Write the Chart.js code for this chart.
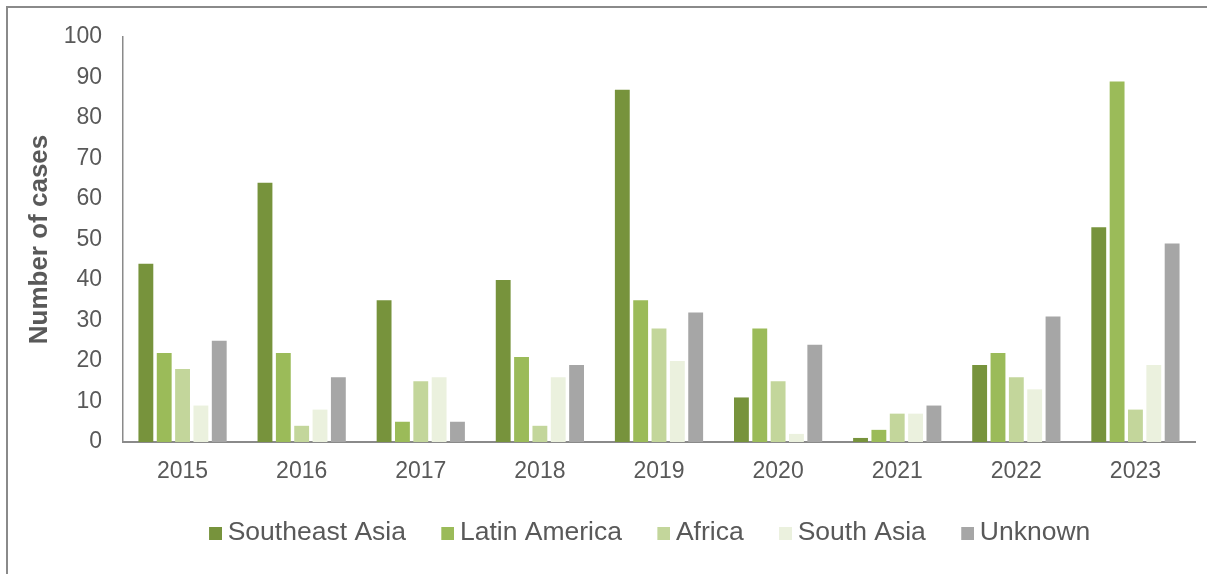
<!DOCTYPE html>
<html>
<head>
<meta charset="utf-8">
<script src="https://cdn.jsdelivr.net/npm/chart.js@4/dist/chart.umd.min.js"></script>
<style>
  html, body { margin: 0; padding: 0; background: #ffffff; }
  #wrap { position: relative; width: 1207px; height: 574px; overflow: hidden; }
  #frame { position: absolute; left: 6px; top: 6px; width: 1201px; height: 568px;
           border-top: 2px solid #8a8a8a; border-left: 2px solid #8a8a8a; box-sizing: border-box; }
  canvas { position: absolute; left: 0; top: 0; }
</style>
</head>
<body>
<div id="wrap">
  <div id="frame"></div>
  <canvas id="chart" width="1207" height="574"></canvas>
</div>
<script>
// ---- data ----
const years = ['2015', '2016', '2017', '2018', '2019', '2020', '2021', '2022', '2023'];
const southeastAsia = [44, 64, 35, 40, 87, 11, 1, 19, 53];
const latinAmerica  = [22, 22, 5, 21, 35, 28, 3, 22, 89];
const africa        = [18, 4, 15, 4, 28, 15, 7, 16, 8];
const southAsia     = [9, 8, 16, 16, 20, 2, 7, 13, 19];
const unknown       = [25, 16, 5, 19, 32, 24, 9, 31, 49];
const seriesNames   = ['Southeast Asia', 'Latin America', 'Africa', 'South Asia', 'Unknown'];
const yAxisTitle    = 'Number of cases';

// ---- styles ----
const colors = ['#77933C', '#9BBB59', '#C3D69B', '#EBF1DE', '#A6A6A6'];
const textColor = '#595959';
const axisColor = '#8a8a8a';

function swatch(color) {
  const c = document.createElement('canvas');
  c.width = 21; c.height = 13;
  const g = c.getContext('2d');
  g.fillStyle = color;
  g.fillRect(8, 0, 13, 13);
  return c;
}
const swatches = colors.map(swatch);

const seriesValues = [southeastAsia, latinAmerica, africa, southAsia, unknown];
const datasets = seriesNames.map((name, i) => ({
  label: name,
  data: seriesValues[i],
  backgroundColor: colors[i],
  borderWidth: 0,
  categoryPercentage: 0.77,
  barPercentage: 0.81
}));

const legendShift = {
  id: 'legendShift',
  afterLayout(chart) {
    const l = chart.legend;
    if (l) { l.left += 52; l.right += 52; }
  }
};

new Chart(document.getElementById('chart'), {
  type: 'bar',
  data: { labels: years, datasets },
  plugins: [legendShift],
  options: {
    responsive: false,
    animation: false,
    devicePixelRatio: 1,
    layout: { padding: { top: 37, right: 12, bottom: 17.75, left: 0 } },
    plugins: {
      tooltip: { enabled: false },
      legend: {
        position: 'bottom',
        labels: {
          usePointStyle: true,
          boxWidth: 5.75,
          padding: 35,
          color: textColor,
          font: { family: "'Liberation Sans', Arial, sans-serif", size: 26.5 },
          generateLabels(chart) {
            const items = Chart.defaults.plugins.legend.labels.generateLabels(chart);
            items.forEach((it, i) => { it.pointStyle = swatches[i]; });
            return items;
          }
        }
      }
    },
    scales: {
      x: {
        grid: { display: false, drawTicks: false },
        border: { display: true, color: axisColor, width: 2 },
        ticks: {
          color: textColor,
          padding: 16,
          font: { family: "'Liberation Sans', Arial, sans-serif", size: 23 }
        },
        afterFit(scale) { scale.height = 42.75; }
      },
      y: {
        min: 0,
        max: 100,
        grid: { display: false, drawTicks: false },
        border: { display: true, color: axisColor, width: 1.5 },
        ticks: {
          stepSize: 10,
          color: textColor,
          padding: 21,
          font: { family: "'Liberation Sans', Arial, sans-serif", size: 23 }
        },
        title: {
          display: true,
          text: yAxisTitle,
          color: textColor,
          padding: { top: 24, bottom: 0 },
          font: { family: "'Liberation Sans', Arial, sans-serif", size: 26, weight: 'bold' }
        },
        afterFit(scale) { scale.width = 123; }
      }
    }
  }
});
</script>
</body>
</html>
